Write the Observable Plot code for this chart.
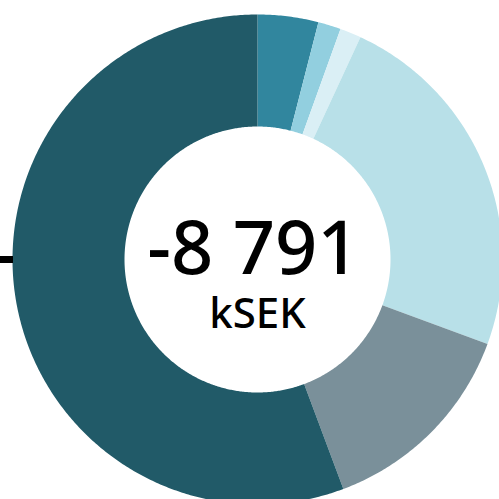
<!DOCTYPE html>
<html>
<head>
<meta charset="utf-8">
<script src="https://cdn.jsdelivr.net/npm/d3@7"></script>
<script src="https://cdn.jsdelivr.net/npm/@observablehq/plot@0.6"></script>
<style>
  html, body { margin: 0; padding: 0; background: #fff; overflow: hidden; }
  #chart { width: 499px; height: 499px; }
</style>
</head>
<body>
<div id="chart"></div>
<script>
// ---- data ----
const categories = ["Segment 1", "Segment 2", "Segment 3", "Segment 4", "Segment 5", "Segment 6"];
const shares = [4.0, 1.5, 1.4, 23.7, 13.7, 55.7];
const colors = ["#31869e", "#92cfdf", "#daeff5", "#b8e0e8", "#7a909a", "#215a68"];
const totalLabel = "-8 791";
const unitLabel = "kSEK";

// ---- geometry (layout) ----
const W = 499, H = 499;
const cx = 257, cy = 259;
const outerR = 245, innerR = 133;

const pie = d3.pie().sort(null).value(d => d.value).startAngle(0).endAngle(2 * Math.PI);
const arcs = pie(categories.map((c, i) => ({key: c, value: shares[i]})));

const pts = [];
for (const a of arcs) {
  const n = Math.max(4, Math.ceil((a.endAngle - a.startAngle) / (Math.PI / 360)));
  for (let k = 0; k <= n; k++) {
    const t = a.startAngle + (a.endAngle - a.startAngle) * k / n;
    pts.push({key: a.data.key, x: outerR * Math.sin(t), y: outerR * Math.cos(t)});
  }
  for (let k = n; k >= 0; k--) {
    const t = a.startAngle + (a.endAngle - a.startAngle) * k / n;
    pts.push({key: a.data.key, x: innerR * Math.sin(t), y: innerR * Math.cos(t)});
  }
}

const chart = Plot.plot({
  width: W,
  height: H,
  margin: 0,
  x: {domain: [-cx, W - cx], axis: null},
  y: {domain: [-(H - cy), cy], axis: null},
  color: {domain: categories, range: colors},
  style: {background: "#fff"},
  marks: [
    Plot.line(pts, {x: "x", y: "y", z: "key", fill: "key", stroke: null, curve: "linear"}),
    Plot.ruleY([0], {x1: -cx, x2: -outerR + 1, stroke: "#000", strokeWidth: 7}),
    Plot.text([totalLabel], {x: 0, y: -14, text: d => d, fontSize: 74, fontWeight: 500, lineAnchor: "bottom", textAnchor: "middle",
      fontFamily: "Noto Sans", fill: "#000", dx: -4, letterSpacing: "-2px"}),
    Plot.text([unitLabel], {x: 0, y: -68, text: d => d, fontSize: 42, fontWeight: 500, lineAnchor: "bottom", textAnchor: "middle",
      fontFamily: "Noto Sans", fill: "#000", letterSpacing: "-1px"})
  ]
});
document.getElementById("chart").appendChild(chart);
</script>
</body>
</html>
